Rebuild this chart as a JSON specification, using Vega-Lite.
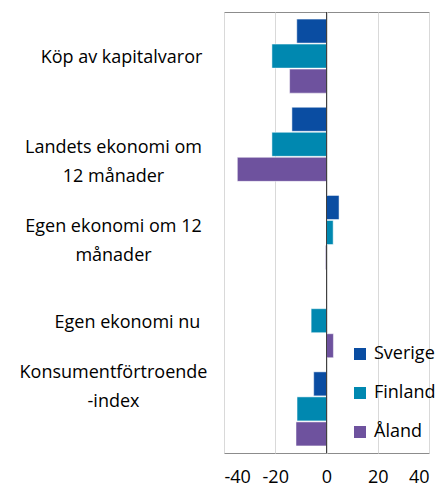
{
  "$schema": "https://vega.github.io/schema/vega-lite/v6.json",
  "width": 205,
  "height": 441,
  "autosize": "none",
  "padding": {"left": 224, "top": 12, "right": 12, "bottom": 36},
  "background": "white",
  "config": {
    "view": {"stroke": "#8c8c8c", "strokeWidth": 1},
    "font": "Open Sans"
  },
  "data": {
    "values": [
      {"kategori": "Köp av kapitalvaror", "land": "Sverige", "varde": -11.6},
      {"kategori": "Köp av kapitalvaror", "land": "Finland", "varde": -21.3},
      {"kategori": "Köp av kapitalvaror", "land": "Åland", "varde": -14.4},
      {"kategori": "Landets ekonomi om 12 månader", "land": "Sverige", "varde": -13.5},
      {"kategori": "Landets ekonomi om 12 månader", "land": "Finland", "varde": -21.3},
      {"kategori": "Landets ekonomi om 12 månader", "land": "Åland", "varde": -34.8},
      {"kategori": "Egen ekonomi om 12 månader", "land": "Sverige", "varde": 4.9},
      {"kategori": "Egen ekonomi om 12 månader", "land": "Finland", "varde": 2.6},
      {"kategori": "Egen ekonomi om 12 månader", "land": "Åland", "varde": -0.4},
      {"kategori": "Egen ekonomi nu", "land": "Sverige", "varde": 0},
      {"kategori": "Egen ekonomi nu", "land": "Finland", "varde": -6.0},
      {"kategori": "Egen ekonomi nu", "land": "Åland", "varde": 2.7},
      {"kategori": "Konsumentförtroende-index", "land": "Sverige", "varde": -5.0},
      {"kategori": "Konsumentförtroende-index", "land": "Finland", "varde": -11.5},
      {"kategori": "Konsumentförtroende-index", "land": "Åland", "varde": -11.9}
    ]
  },
  "layer": [
    {
      "mark": {"type": "bar", "stroke": "white", "strokeWidth": 0.5},
      "encoding": {
        "y": {
          "field": "kategori",
          "type": "nominal",
          "sort": ["Köp av kapitalvaror", "Landets ekonomi om 12 månader", "Egen ekonomi om 12 månader", "Egen ekonomi nu", "Konsumentförtroende-index"],
          "scale": {"paddingInner": 0.16, "paddingOuter": 0.08},
          "axis": {
            "title": null,
            "domain": false,
            "ticks": false,
            "tickSize": 0,
            "labelFontSize": 18,
            "labelColor": "#000000",
            "labelLineHeight": 29,
            "labelAlign": "center",
            "labelBaseline": "middle",
            "labelLimit": 300,
            "labelExpr": "datum.value == 'Landets ekonomi om 12 månader' ? ['Landets ekonomi om', '12 månader'] : datum.value == 'Egen ekonomi om 12 månader' ? ['Egen ekonomi om 12', 'månader'] : datum.value == 'Konsumentförtroende-index' ? ['Konsumentförtroende', '-index'] : datum.value",
            "labelPadding": {
              "condition": [
                {"test": "datum.value == 'Köp av kapitalvaror'", "value": 103},
                {"test": "datum.value == 'Egen ekonomi nu'", "value": 97}
              ],
              "value": 111
            },
            "labelOffset": {
              "condition": [
                {"test": "datum.value == 'Landets ekonomi om 12 månader'", "value": 4},
                {"test": "datum.value == 'Egen ekonomi om 12 månader'", "value": -5.5},
                {"test": "datum.value == 'Konsumentförtroende-index'", "value": -35.5}
              ],
              "value": 2
            }
          }
        },
        "yOffset": {
          "field": "land",
          "type": "nominal",
          "sort": ["Sverige", "Finland", "Åland"],
          "scale": {"paddingInner": 0.04}
        },
        "x": {
          "field": "varde",
          "type": "quantitative",
          "scale": {"domain": [-40, 40], "nice": false},
          "axis": {
            "title": null,
            "values": [-40, -20, 0, 20, 40],
            "domain": false,
            "ticks": false,
            "labelFontSize": 18,
            "labelColor": "#000000",
            "labelPadding": 15,
            "labelExpr": "replace(datum.label, '−', '-')",
            "grid": true,
            "gridColor": "#d9d9d9",
            "gridWidth": 1
          }
        },
        "color": {
          "field": "land",
          "type": "nominal",
          "sort": ["Sverige", "Finland", "Åland"],
          "scale": {"domain": ["Sverige", "Finland", "Åland"], "range": ["#0a4da2", "#0088b0", "#6e529e"]},
          "legend": {
            "title": null,
            "orient": "none",
            "legendX": 127,
            "legendY": 333,
            "symbolType": "square",
            "symbolSize": 144,
            "symbolStrokeWidth": 0,
            "labelFontSize": 18,
            "labelColor": "#000000",
            "labelOffset": 5,
            "rowPadding": 21,
            "padding": 0
          }
        }
      }
    },
    {
      "mark": {"type": "rule", "color": "#404040", "strokeWidth": 1},
      "encoding": {
        "x": {"datum": 0, "type": "quantitative"}
      }
    }
  ]
}
